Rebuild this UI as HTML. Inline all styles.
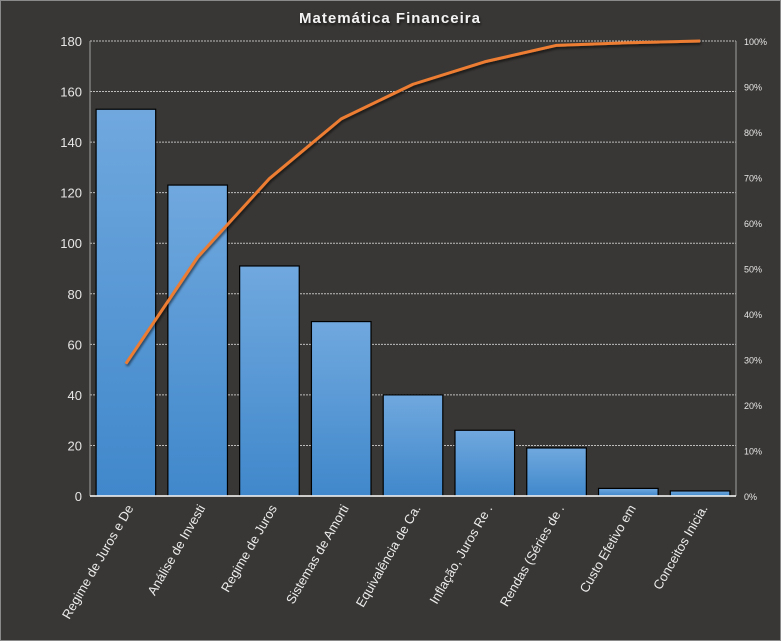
<!DOCTYPE html>
<html><head><meta charset="utf-8"><style>
html,body{margin:0;padding:0;background:#393735;}
svg{display:block;font-family:"Liberation Sans",sans-serif;}
</style></head><body>
<svg id="chart" width="781" height="641" viewBox="0 0 781 641">
<defs>
<linearGradient id="bg" x1="0" y1="0" x2="0" y2="1">
<stop offset="0" stop-color="#70a8de"/><stop offset="1" stop-color="#4088cb"/>
</linearGradient>
<filter id="sh" x="-5%" y="-5%" width="110%" height="110%"><feDropShadow dx="1" dy="2" stdDeviation="1.2" flood-color="#000" flood-opacity="0.6"/></filter>
</defs>
<rect x="0.5" y="0.5" width="780" height="640" fill="#393735" stroke="#8a8a8a"/>
<text x="390" y="23" text-anchor="middle" fill="#f2f2f2" font-weight="bold" font-size="15" letter-spacing="1" filter="url(#sh)">Matemática Financeira</text>
<g id="grid"></g><g id="bars"></g><g id="axes"></g><g id="line"></g><g id="labels"></g>
</svg>
<script>
const categories=["Regime de Juros e De","Análise de Investi","Regime de Juros","Sistemas de Amorti","Equivalência de Ca.","Inflação, Juros Re .","Rendas (Séries de .","Custo Efetivo em","Conceitos Inicia."];
const values=[153,123,91,69,40,26,19,3,2];
const leftTicks=[0,20,40,60,80,100,120,140,160,180];
const rightTicks=["0%","10%","20%","30%","40%","50%","60%","70%","80%","90%","100%"];
const NS="http://www.w3.org/2000/svg";
const L=90,R=736,T=41,B=496;
const yL=v=>B-(v/180)*(B-T);
const yR=p=>B-p*(B-T);
const slot=(R-L)/categories.length;
const xC=i=>L+slot*(i+0.5);
function mk(tag,attrs,parent){const e=document.createElementNS(NS,tag);for(const k in attrs)e.setAttribute(k,attrs[k]);document.getElementById(parent).appendChild(e);return e;}
leftTicks.forEach(t=>{
  const y=yL(t);
  if(t>0){const g=mk("line",{x1:L,x2:R,y1:y,y2:y,stroke:"#bdbdbd","stroke-width":1,"stroke-dasharray":"2,1"},"grid");
  
  }
  const tx=mk("text",{x:L-8,y:y+5,"text-anchor":"end",fill:"#e6e6e6","font-size":13},"axes");tx.textContent=t;
  
  
});
rightTicks.forEach((t,i)=>{
  const tx=mk("text",{x:R+8,y:yR(i/10)+4,fill:"#e6e6e6","font-size":9},"axes");tx.textContent=t;
  
  
});
const bw=slot*0.83;
values.forEach((v,i)=>{
  const r=mk("rect",{x:xC(i)-bw/2,y:yL(v),width:bw,height:B-yL(v),fill:"url(#bg)",stroke:"#000","stroke-width":1.2},"bars");
  
  
});
let a1=mk("line",{x1:L,x2:L,y1:T,y2:B,stroke:"#a0a0a0","stroke-width":1},"axes");


let a2=mk("line",{x1:R,x2:R,y1:T,y2:B,stroke:"#a0a0a0","stroke-width":1},"axes");


let a3=mk("line",{x1:L,x2:R,y1:B,y2:B,stroke:"#ffffff","stroke-width":1.5},"axes");


const total=values.reduce((a,b)=>a+b,0);
let cum=0;const pts=values.map((v,i)=>{cum+=v;return xC(i)+","+yR(cum/total);});
const pl=mk("polyline",{points:pts.join(" "),fill:"none",stroke:"#ed7d31","stroke-width":3,"stroke-linejoin":"round",filter:"url(#sh)"},"line");


categories.forEach((c,i)=>{
  const x=xC(i)+8,y=508;
  const tx=mk("text",{x:x,y:y,"text-anchor":"end",fill:"#ececec","font-size":13,transform:"rotate(-60 "+x+" "+y+")"},"labels");
  tx.textContent=c;
  
  
});
</script>
</body></html>
